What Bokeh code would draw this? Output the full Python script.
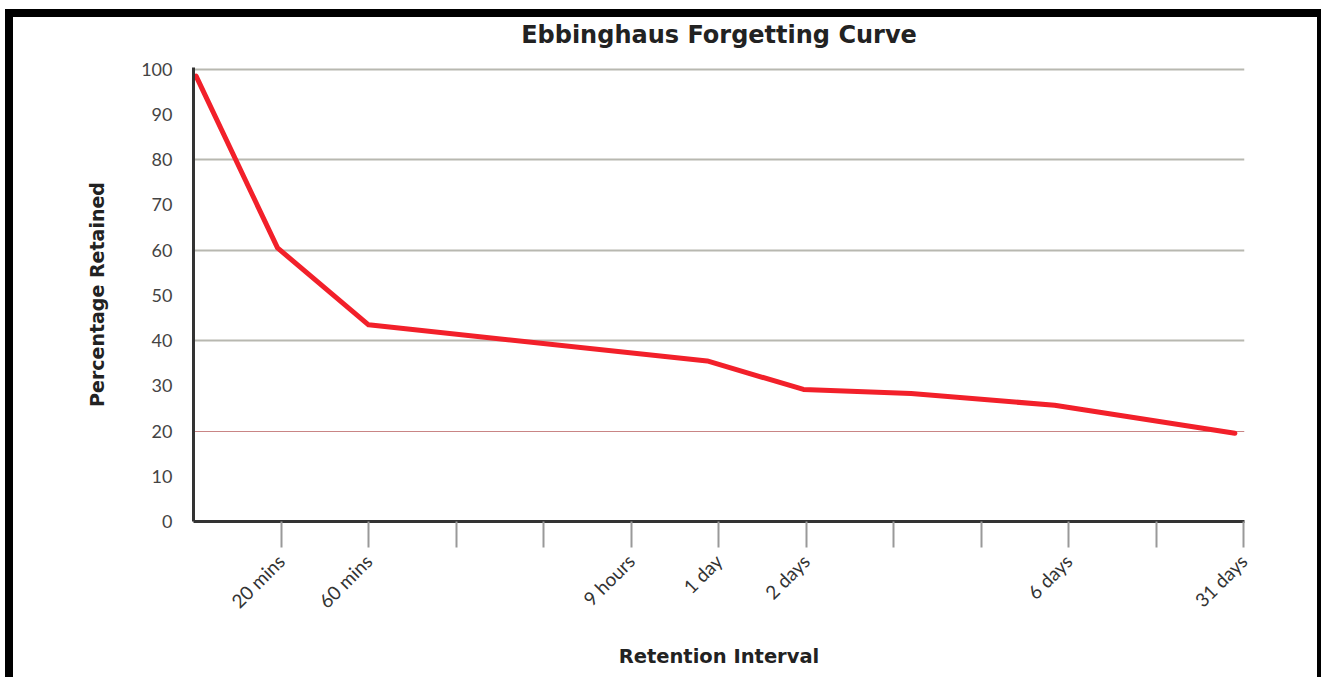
import math
from bokeh.plotting import figure
from bokeh.models import FixedTicker, Grid, Range1d, LinearAxis
from bokeh.embed import file_html
from bokeh.resources import INLINE

# Data
x_pos = [0.03, 0.96, 2.0, 5.87, 6.97, 8.2, 9.84, 11.9]
retained = [98.5, 60.5, 43.5, 35.5, 29.2, 28.3, 25.7, 19.5]

x_tick_positions = [1, 2, 3, 4, 5, 6, 7, 8, 9, 10, 11, 12]
x_tick_labels = ["20 mins", "60 mins", "", "", "9 hours", "1 day", "2 days", "", "", "6 days", "", "31 days"]
y_ticks = [0, 10, 20, 30, 40, 50, 60, 70, 80, 90, 100]
grid_gray = [40, 60, 80, 100]
grid_red = [20]
chart_title = "Ebbinghaus Forgetting Curve"

FONT = "Lato"
BOLD = "DejaVu Sans"

x_range = Range1d(0, 12.01)
y_range = Range1d(0, 100.4)

p = figure(width=1316, height=668, output_backend="svg", toolbar_location=None,
           x_range=x_range, y_range=y_range,
           min_border_left=180, min_border_right=85, min_border_top=50, min_border_bottom=164)
p.styles = {"border-top": "8px solid black", "border-left": "8px solid black",
            "border-right": "4px solid black", "margin-left": "5px", "margin-top": "9px"}
p.outline_line_color = None
p.background_fill_color = "white"
p.border_fill_color = "white"
p.title.visible = False

# title drawn as the label of a bare top axis, centred over the plot area
top_axis = LinearAxis(ticker=FixedTicker(ticks=[]), axis_line_color=None,
                      major_tick_line_color=None, minor_tick_line_color=None,
                      major_label_text_color=None,
                      axis_label=chart_title, axis_label_standoff=19,
                      axis_label_text_font=BOLD, axis_label_text_font_style="bold",
                      axis_label_text_font_size="24px", axis_label_text_color="#222222")
p.add_layout(top_axis, "above")

# grids
p.xgrid.visible = False
p.ygrid.ticker = FixedTicker(ticks=grid_gray)
p.ygrid.grid_line_color = "#b8b8b0"
p.ygrid.grid_line_width = 2
red_grid = Grid(dimension=1, ticker=FixedTicker(ticks=grid_red),
                grid_line_color="#c98585", grid_line_width=1)
p.add_layout(red_grid)

# x axis
xa = p.below[0]
xa.ticker = FixedTicker(ticks=x_tick_positions)
xa.major_label_overrides = {pos: lab for pos, lab in zip(x_tick_positions, x_tick_labels)}
xa.major_label_orientation = math.pi / 4
xa.major_label_text_font = FONT
xa.major_label_text_font_size = "19px"
xa.major_label_text_color = "#333333"
xa.major_label_standoff = 10
xa.major_tick_in = 0
xa.major_tick_out = 26
xa.major_tick_line_color = "#999999"
xa.major_tick_line_width = 2
xa.minor_tick_line_color = None
xa.axis_line_color = "#333333"
xa.axis_line_width = 3
xa.axis_label = "Retention Interval"
xa.axis_label_text_font = BOLD
xa.axis_label_text_font_style = "bold"
xa.axis_label_text_font_size = "19.5px"
xa.axis_label_text_color = "#222222"
xa.axis_label_standoff = 22

# y axis
ya = p.left[0]
ya.ticker = FixedTicker(ticks=y_ticks)
ya.major_label_text_font = FONT
ya.major_label_text_font_size = "18px"
ya.major_label_text_color = "#444444"
ya.major_label_standoff = 15
ya.major_tick_line_color = None
ya.minor_tick_line_color = None
ya.axis_line_color = "#333333"
ya.axis_line_width = 3
ya.axis_label = "Percentage Retained"
ya.axis_label_text_font = BOLD
ya.axis_label_text_font_style = "bold"
ya.axis_label_text_font_size = "19px"
ya.axis_label_text_color = "#222222"
ya.axis_label_standoff = 30

p.line(x_pos, retained, line_color="#f2202a", line_width=5, line_join="round", line_cap="round")

open("out.html", "w").write(file_html(p, INLINE))
